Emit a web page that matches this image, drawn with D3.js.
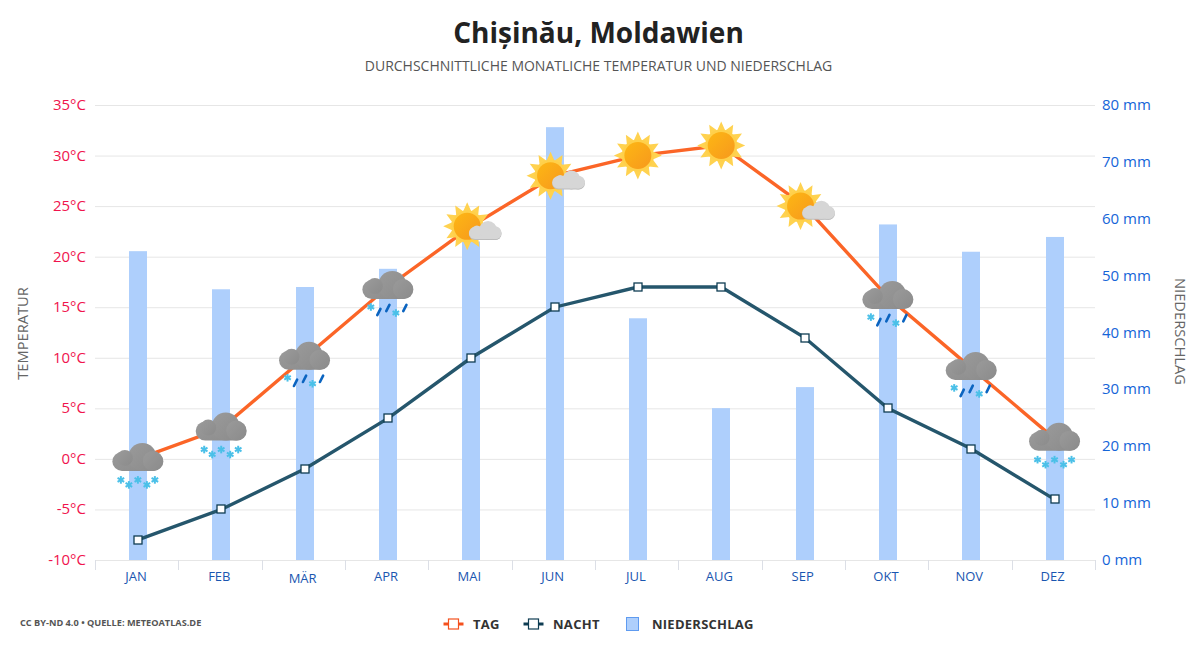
<!DOCTYPE html>
<html><head><meta charset="utf-8">
<script src="https://cdnjs.cloudflare.com/ajax/libs/d3/7.8.5/d3.min.js"></script>
<style>html,body{margin:0;background:#fff}svg{display:block}text{font-family:"Open Sans",sans-serif}</style>
</head><body><svg id="c" width="1200" height="650"></svg>
<script>
const months=["JAN","FEB","MÄR","APR","MAI","JUN","JUL","AUG","SEP","OKT","NOV","DEZ"];
const dayTemp=[0,3,10,17,23,28,30,31,25,16,9,2];
const nightTemp=[-8,-5,-1,4,10,15,17,17,12,5,1,-4];
const precip=[54.3,47.6,48,51.2,56,76.1,42.5,26.7,30.4,59,54.2,56.8];
const icons=["snow","snow","mix","mix","partly","partly","sun","sun","partly","mix","mix","snow"];
const tempTicks=[-10,-5,0,5,10,15,20,25,30,35];
const precipTicks=[0,10,20,30,40,50,60,70,80];

const svg=d3.select("#c");
const x=d3.scaleBand().domain(months).range([95,1095]);
const mid=m=>x(m)+x.bandwidth()/2;
const cx=m=>mid(m)+1.2;
const yT=d3.scaleLinear().domain([-10,35]).range([560,105]);
const yP=d3.scaleLinear().domain([0,80]).range([560,105]);
const defs=svg.append("defs");
const g1=defs.append("linearGradient").attr("id","sunG").attr("x1",0).attr("y1",0).attr("x2",1).attr("y2",1);
g1.append("stop").attr("offset",0).attr("stop-color","#fdb714");
g1.append("stop").attr("offset",1).attr("stop-color","#f7981d");
const g2=defs.append("linearGradient").attr("id","cloudG").attr("x1",0).attr("y1",0).attr("x2",1).attr("y2",1);
g2.append("stop").attr("offset",0).attr("stop-color","#9a9a9a");
g2.append("stop").attr("offset",1).attr("stop-color","#8b8b8b");

svg.append("g").selectAll("line").data(tempTicks).join("line")
 .attr("x1",95).attr("x2",1095).attr("y1",d=>yT(d)+.5).attr("y2",d=>yT(d)+.5)
 .attr("stroke","#e6e6e6");
const xEdges=d3.range(months.length+1).map(i=>95+i*x.bandwidth());
svg.append("g").selectAll("line").data(xEdges).join("line")
 .attr("x1",d=>Math.round(d)+.5).attr("x2",d=>Math.round(d)+.5).attr("y1",560).attr("y2",570)
 .attr("stroke","#dcdfe6");
svg.append("g").selectAll("text").data(months).join("text")
 .attr("x",d=>mid(d)-.7).attr("y",d=>d==="MÄR"?583:581).attr("text-anchor","middle")
 .attr("font-size",13).attr("fill","#1a56b0").text(d=>d);
svg.append("g").selectAll("text").data(tempTicks).join("text")
 .attr("x",86).attr("y",d=>yT(d)+5).attr("text-anchor","end")
 .attr("font-size",15).attr("fill","#f0134d").text(d=>d+"°C");
svg.append("g").selectAll("text").data(precipTicks).join("text")
 .attr("x",1102).attr("y",d=>yP(d)+5).attr("font-size",15).attr("fill","#1565d8").text(d=>d+" mm");
svg.append("text").attr("transform","translate(28,333.5) rotate(-90)").attr("text-anchor","middle")
 .attr("font-size",14.7).attr("fill","#666").text("TEMPERATUR");
svg.append("text").attr("transform","translate(1174.5,331.5) rotate(90)").attr("text-anchor","middle")
 .attr("font-size",14.7).attr("fill","#666").text("NIEDERSCHLAG");
svg.append("text").attr("x",598.5).attr("y",43).attr("text-anchor","middle").attr("font-size",28)
 .attr("font-weight",700).attr("fill","#222").text("Chișinău, Moldawien");
svg.append("text").attr("x",598.5).attr("y",70.5).attr("text-anchor","middle").attr("font-size",14)
 .attr("fill","#555").text("DURCHSCHNITTLICHE MONATLICHE TEMPERATUR UND NIEDERSCHLAG");
svg.append("g").selectAll("rect").data(months).join("rect")
 .attr("x",d=>Math.round(cx(d))-9).attr("width",18).attr("y",(d,i)=>yP(precip[i])).attr("height",(d,i)=>560-yP(precip[i]))
 .attr("fill","#aecffc");
const line=d3.line().x(d=>cx(d.m)).y(d=>yT(d.v));
const dayD=months.map((m,i)=>({m,v:dayTemp[i]}));
const nightD=months.map((m,i)=>({m,v:nightTemp[i]}));
svg.append("path").attr("d",line(dayD)).attr("fill","none").attr("stroke","#fb6527").attr("stroke-width",3.4);
svg.append("path").attr("d",line(nightD)).attr("fill","none").attr("stroke","#25566c").attr("stroke-width",3.4);
svg.append("g").selectAll("rect").data(nightD).join("rect")
 .attr("x",d=>Math.round(cx(d.m))-4).attr("y",d=>Math.round(yT(d.v))-4).attr("width",8).attr("height",8)
 .attr("fill","#fff").attr("stroke","#0f3d53").attr("stroke-width",1.3);

function cloud(g,s,fill,dx,dy){
 const c=g.append("g").attr("transform",`translate(${dx},${dy}) scale(${s})`).attr("fill",fill);
 c.append("rect").attr("x",-25.5).attr("y",-7).attr("width",51).attr("height",19).attr("rx",9.5);
 c.append("circle").attr("cx",4.5).attr("cy",-2).attr("r",14);
 c.append("circle").attr("cx",-13).attr("cy",-1).attr("r",8);
 c.append("circle").attr("cx",15).attr("cy",2).attr("r",10);
}
function flake(g,px,py){
 const f=g.append("g").attr("transform",`translate(${px},${py})`).attr("stroke","#4bc0e8").attr("stroke-width",2);
 [0,60,120].forEach(a=>f.append("line").attr("y1",-3.8).attr("y2",3.8).attr("transform",`rotate(${a})`));
}
function drop(g,px,py){
 g.append("line").attr("x1",px-1.6).attr("y1",py+3.2).attr("x2",px+1.6).attr("y2",py-3.2)
  .attr("stroke","#0b64c0").attr("stroke-width",2.6).attr("stroke-linecap","round");
}
function sun(g){
 const pts=[];
 for(let i=0;i<24;i++){const r=i%2?15.5:24,a=i*Math.PI/12-Math.PI/2;pts.push([r*Math.cos(a),r*Math.sin(a)]);}
 g.append("polygon").attr("points",pts.map(p=>p.join(",")).join(" ")).attr("fill","#ffd250");
 g.append("circle").attr("r",16).attr("fill","#ffd04a");
 g.append("circle").attr("r",13.5).attr("fill","url(#sunG)");
}
months.forEach((m,i)=>{
 const t=icons[i];
 const dx=t==="partly"?-4:0;
 const g=svg.append("g").attr("transform",`translate(${cx(m)+dx},${yT(dayTemp[i])})`);
 if(t==="sun"||t==="partly") sun(g);
 if(t==="partly"){cloud(g,.64,"#bdbdbd",18,6);cloud(g,.64,"#d6d6d6",18,5);}
 if(t==="snow"||t==="mix") cloud(g,1,"url(#cloudG)",0,0);
 if(t==="snow"){[[-17,21],[-9,26],[0,21],[9,26],[17,21]].forEach(p=>flake(g,p[0],p[1]));}
 if(t==="mix"){
  flake(g,-17,20);flake(g,8,26);
  drop(g,-9,25);drop(g,0,21);drop(g,17,21);
 }
});

svg.append("text").attr("x",20).attr("y",626).attr("font-size",9.2).attr("font-weight",700).attr("fill","#555")
 .text("CC BY-ND 4.0 • QUELLE: METEOATLAS.DE");
const lg=svg.append("g");
function lineKey(px,col,label,tx){
 lg.append("line").attr("x1",px-10).attr("x2",px+10).attr("y1",624).attr("y2",624).attr("stroke",col).attr("stroke-width",3);
 lg.append("rect").attr("x",px-5).attr("y",619).attr("width",10).attr("height",10).attr("fill","#fff").attr("stroke",col).attr("stroke-width",1.2);
 lg.append("text").attr("x",tx).attr("y",629).attr("font-size",13).attr("font-weight",700).attr("letter-spacing",.3).attr("fill","#333").text(label);
}
lineKey(453.5,"#f4511e","TAG",473);
lineKey(533.5,"#0f3d53","NACHT",553);
lg.append("rect").attr("x",626.5).attr("y",617.5).attr("width",12).attr("height",13).attr("fill","#aecffc").attr("stroke","#5f9bf0");
lg.append("text").attr("x",652).attr("y",629).attr("font-size",13).attr("font-weight",700).attr("letter-spacing",.25).attr("fill","#333").text("NIEDERSCHLAG");
</script></body></html>
